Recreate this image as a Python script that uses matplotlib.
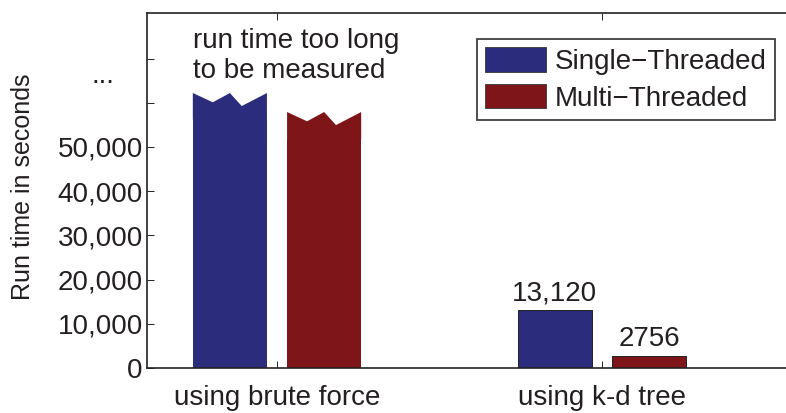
import matplotlib
matplotlib.use('Agg')
import matplotlib.pyplot as plt
from matplotlib.patches import Patch

plt.rcParams['font.family'] = ['Liberation Sans', 'DejaVu Sans']

# data
methods = ['using brute force', 'using k-d tree']
series = ['Single\u2212Threaded', 'Multi\u2212Threaded']
kd_times = [13120, 2756]
kd_labels = ['13,120', '2756']
# brute force bars are broken (value unknown): base height and top of the zigzag
brute_base = [56300, 51800]
brute_top = [62200, 57900]
notch = [(0.27, 2100), (0.5, 0), (0.66, 2950)]
yticks = [0, 10000, 20000, 30000, 40000, 50000, 60000, 70000]
ytick_labels = ['0', '10,000', '20,000', '30,000', '40,000', '50,000', '', '']

colors = ['#2b2c7c', '#7e1518']
txt = '#231f20'
fs = 20

fig = plt.figure(figsize=(7.86, 4.13), dpi=100)
ax = fig.add_axes([147 / 786, 45 / 413, 682.5 / 786, 355 / 413])

xpos = [1, 2]
w = 0.228
off = 0.145

# brute force, broken bars
for i in range(2):
    x0 = xpos[0] + (2 * i - 1) * off - w / 2
    ax.bar(x0 + w / 2, brute_base[i], w, color=colors[i], linewidth=0)
    xs = [x0, x0]
    ys = [brute_base[i] - 100, brute_top[i]]
    for fr, d in notch:
        xs.append(x0 + fr * w)
        ys.append(brute_top[i] - d)
    xs += [x0 + w, x0 + w]
    ys += [brute_top[i], brute_base[i] - 100]
    ax.fill(xs, ys, color=colors[i], linewidth=0)

# k-d tree bars
for i in range(2):
    xc = xpos[1] + (2 * i - 1) * off
    ax.bar(xc, kd_times[i], w, color=colors[i], edgecolor='#222222', linewidth=0.7)
    ax.text(xc, kd_times[i] + 900, kd_labels[i], ha='center', va='bottom', fontsize=fs, color=txt)

ax.text(1 - off - w / 2, 70600, 'run time too long\nto be measured', ha='left', va='center',
        fontsize=fs, color=txt, linespacing=1.2)

ax.set_xlim(0.6, 2.7)
ax.set_ylim(0, 80300)
ax.set_xticks(xpos)
ax.set_xticklabels(methods, fontsize=fs, color=txt)
ax.set_yticks(yticks)
ax.set_yticklabels(ytick_labels, fontsize=fs, color=txt)
ax.text(-0.065, 66000, '...', transform=ax.get_yaxis_transform(), ha='center', va='center',
        fontsize=fs, color=txt)
ax.tick_params(direction='in', length=5, width=0.6, top=True, right=False, pad=3)
ax.tick_params(axis='x', pad=12)
for s in ax.spines.values():
    s.set_linewidth(1.2)
    s.set_color('#222222')

ax.set_ylabel('Run time in seconds', fontsize=18, color=txt)
ax.yaxis.set_label_coords(-0.164, 0.51)

handles = [Patch(facecolor=colors[0], edgecolor='#444444', linewidth=0.7, label=series[0]),
           Patch(facecolor=colors[1], edgecolor='#444444', linewidth=0.7, label=series[1])]
leg = fig.legend(handles=handles, loc='upper left', bbox_to_anchor=(477 / 786, 1 - 39 / 413),
                 borderaxespad=0, fontsize=fs, frameon=True, fancybox=False,
                 handlelength=2.2, handleheight=1.0, handletextpad=0.3,
                 labelspacing=0.3, borderpad=0.3)
leg.get_frame().set_edgecolor('#111111')
leg.get_frame().set_linewidth(1.3)
for t in leg.get_texts():
    t.set_color(txt)

fig.savefig('out.png', dpi=100)
